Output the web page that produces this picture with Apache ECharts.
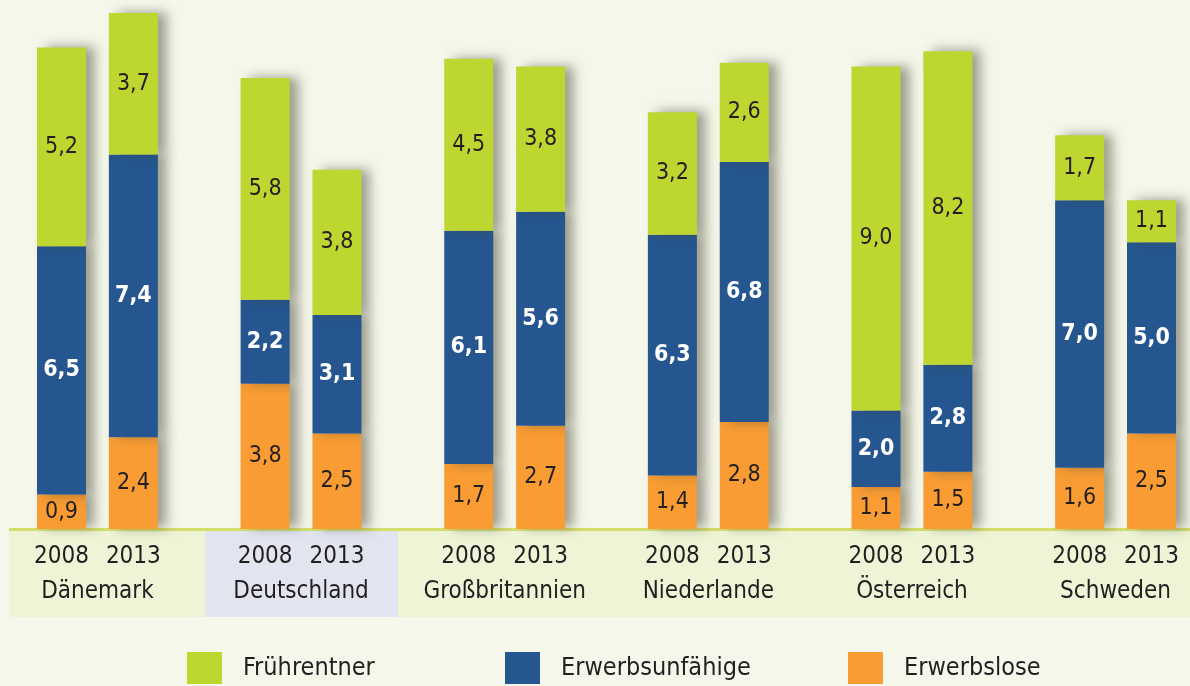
<!DOCTYPE html>
<html>
<head>
<meta charset="utf-8">
<script src="https://cdn.jsdelivr.net/npm/echarts@6/dist/echarts.min.js"></script>
<style>
html,body{margin:0;padding:0;background:#f5f7ea;}
#c{width:1190px;height:686px;}
</style>
</head>
<body>
<div id="c"></div>
<script>
const countries = ['Dänemark','Deutschland','Großbritannien','Niederlande','Österreich','Schweden'];
const years = ['2008','2013'];
const seriesNames = ['Frührentner','Erwerbsunfähige','Erwerbslose'];
// values per bar: country order, 2008 then 2013
const erwerbslose      = [0.9,2.4, 3.8,2.5, 1.7,2.7, 1.4,2.8, 1.1,1.5, 1.6,2.5];
const erwerbsunfaehige = [6.5,7.4, 2.2,3.1, 6.1,5.6, 6.3,6.8, 2.0,2.8, 7.0,5.0];
const fruehrentner     = [5.2,3.7, 5.8,3.8, 4.5,3.8, 3.2,2.6, 9.0,8.2, 1.7,1.1];

const FONT = "'Liberation Sans Narrow','DejaVu Sans Condensed',sans-serif";
// slot layout: within a group bars are 6 slots apart; groups are 17 slots apart
const PAIR = 6, GROUP = 17;
const nSlots = GROUP*(countries.length-1) + PAIR + 1;
const cats = [], labels = [];
for (let i=0;i<nSlots;i++){ cats.push('s'+i); labels.push(''); }
const slotOf = [];
countries.forEach((c,g)=>{
  years.forEach((y,j)=>{
    const s = g*GROUP + j*PAIR;
    slotOf.push(s);
    labels[s] = y + '\n ';
  });
  labels[g*GROUP + PAIR/2] = ' \n' + c;
});
function toSlots(arr){
  const d = new Array(nSlots).fill(null);
  arr.forEach((v,i)=>{ d[slotOf[i]] = v; });
  return d;
}
const shadow = {shadowColor:'rgba(70,70,50,0.5)', shadowBlur:11, shadowOffsetX:9, shadowOffsetY:-1};
function lbl(color, weight){
  return {show:true, position:'inside', fontFamily:FONT, fontSize:23, color:color, fontWeight:weight,
    formatter: p => p.value==null ? '' : p.value.toFixed(1).replace('.',',')};
}
const chart = echarts.init(document.getElementById('c'), null, {renderer:'canvas'});
const legendBase = {top:647, itemWidth:35, itemHeight:32, icon:'rect', selectedMode:false,
  textStyle:{fontFamily:FONT, fontSize:25, color:'#231f20', padding:[2,0,0,16]}};
chart.setOption({
  backgroundColor:'#f5f7ea',
  animation:false,
  graphic:[
    {type:'rect', z:-10, shape:{x:9,y:531,width:1181,height:86}, style:{fill:'#eff4d6'}},
    {type:'rect', z:-9, shape:{x:205,y:531,width:193,height:86}, style:{fill:'#e2e4f0'}},
    {type:'rect', z:-8, shape:{x:9,y:528,width:1181,height:3}, style:{fill:'#d3df6b'}}
  ],
  grid:{left:55.5, right:32.5, top:0, bottom:157},
  xAxis:{type:'category', data:cats, axisLine:{show:false}, axisTick:{show:false},
    axisLabel:{interval:0, margin:10, fontFamily:FONT, fontSize:24, color:'#231f20', lineHeight:35,
      formatter:(v,i)=>labels[i]}},
  yAxis:{type:'value', min:0, max:13.84, show:false, splitLine:{show:false}},
  legend:[
    Object.assign({}, legendBase, {left:182, data:['Frührentner']}),
    Object.assign({}, legendBase, {left:500, data:['Erwerbsunfähige']}),
    Object.assign({}, legendBase, {left:843, data:['Erwerbslose']})
  ],
  series:[
    {name:'Erwerbslose', type:'bar', stack:'a', barWidth:49, clip:false, data:toSlots(erwerbslose),
      itemStyle:Object.assign({color:'#f89c33'}, shadow), label:lbl('#231f20','normal')},
    {name:'Erwerbsunfähige', type:'bar', stack:'a', barWidth:49, clip:false, data:toSlots(erwerbsunfaehige),
      itemStyle:Object.assign({color:'#26568f'}, shadow), label:lbl('#ffffff','bold')},
    {name:'Frührentner', type:'bar', stack:'a', barWidth:49, clip:false, data:toSlots(fruehrentner),
      itemStyle:Object.assign({color:'#bed630'}, shadow), label:lbl('#231f20','normal')}
  ]
});
</script>
</body>
</html>
